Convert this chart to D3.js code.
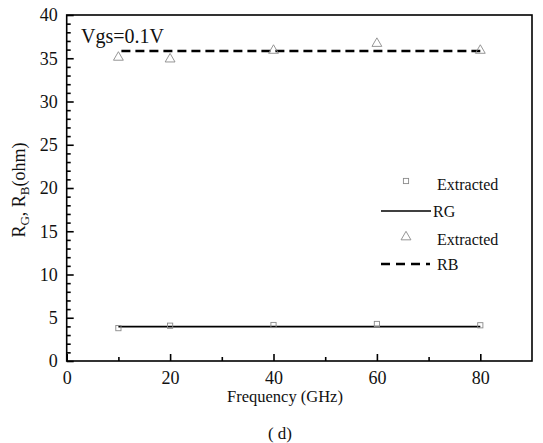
<!DOCTYPE html>
<html><head><meta charset="utf-8">
<script src="https://cdn.jsdelivr.net/npm/d3@7"></script>
<style>body{margin:0;background:#fff}svg text{font-family:"Liberation Serif","Times New Roman",serif;fill:#111}</style>
</head><body><svg id="c" width="543" height="443" font-family="Liberation Serif, serif"></svg>
<script>
const freqs = [10, 20, 40, 60, 80];
const rgExtracted = [3.8, 4.08, 4.16, 4.28, 4.13];
const rbExtracted = [35.1, 34.9, 35.9, 36.7, 35.9];
const rgFit = [[10, 3.97], [80, 3.97]];
const rbFit = [[10, 35.84], [80, 35.84]];
const xTicks = [0, 20, 40, 60, 80];
const yTicks = [0, 5, 10, 15, 20, 25, 30, 35, 40];

const svg = d3.select("#c");
const L = 66.7, R = 532, T = 15, B = 361;
const x = d3.scaleLinear().domain([0, 90]).range([L, R]);
const y = d3.scaleLinear().domain([0, 40]).range([B, T]);

svg.append("rect").attr("x", L).attr("y", T).attr("width", R - L).attr("height", B - T)
  .attr("fill", "none").attr("stroke", "#000").attr("stroke-width", 1.6);

const xa = svg.append("g").attr("transform", `translate(0,${B})`)
  .call(d3.axisBottom(x).tickValues(xTicks).tickSize(-7).tickPadding(10).tickFormat(d3.format("d")));
const xm = svg.append("g").attr("transform", `translate(0,${B})`)
  .call(d3.axisBottom(x).tickValues([10, 30, 50, 70]).tickSize(-4).tickFormat(""));
const ya = svg.append("g").attr("transform", `translate(${L},0)`)
  .call(d3.axisLeft(y).tickValues(yTicks).tickSize(-7).tickPadding(9));
const ym = svg.append("g").attr("transform", `translate(${L},0)`)
  .call(d3.axisLeft(y).tickValues(d3.range(0, 41).filter(v => v % 5 !== 0)).tickSize(-4).tickFormat(""));
[xa, xm, ya, ym].forEach(g => {
  g.attr("font-family", "Liberation Serif, serif").attr("font-size", 18);
  g.select(".domain").remove();
  g.selectAll("line").attr("stroke", "#000").attr("stroke-width", 1.6);
  g.selectAll("text").attr("fill", "#111");
});

const line = d3.line().x(d => x(d[0])).y(d => y(d[1]));
svg.append("path").datum(rgFit).attr("d", line).attr("stroke", "#000").attr("stroke-width", 1.6).attr("fill", "none");
svg.append("path").datum(rbFit).attr("d", line).attr("stroke", "#000").attr("stroke-width", 2.4)
  .attr("stroke-dasharray", "9,5").attr("stroke-dashoffset", -3).attr("fill", "none");

const gray = "#8a8a8a";
svg.selectAll(".sq").data(freqs).join("rect")
  .attr("x", d => x(d) - 2.6).attr("y", (d, i) => y(rgExtracted[i]) - 2.6)
  .attr("width", 5.2).attr("height", 5.2).attr("fill", "none").attr("stroke", gray).attr("stroke-width", 0.9);
const tri = d3.symbol().type(d3.symbolTriangle).size(42);
svg.selectAll(".tr").data(freqs).join("path")
  .attr("d", tri).attr("transform", (d, i) => `translate(${x(d)},${y(rbExtracted[i])})`)
  .attr("fill", "none").attr("stroke", gray).attr("stroke-width", 0.9);

const lg = svg.append("g").attr("font-size", 16);
lg.append("rect").attr("x", 403.4).attr("y", 178.4).attr("width", 5.2).attr("height", 5.2)
  .attr("fill", "none").attr("stroke", gray).attr("stroke-width", 0.9);
lg.append("text").attr("x", 437).attr("y", 190).text("Extracted");
lg.append("line").attr("x1", 381).attr("x2", 431).attr("y1", 211).attr("y2", 211).attr("stroke", "#000").attr("stroke-width", 1.6);
lg.append("text").attr("x", 433).attr("y", 217).text("RG");
lg.append("path").attr("d", tri).attr("transform", "translate(406,237)").attr("fill", "none").attr("stroke", gray).attr("stroke-width", 0.9);
lg.append("text").attr("x", 437).attr("y", 245).text("Extracted");
lg.append("line").attr("x1", 381).attr("x2", 430).attr("y1", 264).attr("y2", 264).attr("stroke", "#000").attr("stroke-width", 2.4)
  .attr("stroke-dasharray", "9,6");
lg.append("text").attr("x", 437).attr("y", 270).text("RB");

svg.append("text").attr("x", 81).attr("y", 43).attr("font-size", 20).text("Vgs=0.1V");

svg.append("text").attr("x", 285).attr("y", 402).attr("text-anchor", "middle").attr("font-size", 16.5)
  .text("Frequency (GHz)");
const yt = svg.append("text").attr("transform", "translate(25,190) rotate(-90)").attr("text-anchor", "middle").attr("font-size", 18);
yt.append("tspan").text("R");
yt.append("tspan").attr("font-size", 13).attr("dy", 4).text("G");
yt.append("tspan").attr("dy", -4).text(", R");
yt.append("tspan").attr("font-size", 13).attr("dy", 4).text("B");
yt.append("tspan").attr("dy", -4).text("(ohm)");

svg.append("text").attr("x", 280).attr("y", 439).attr("text-anchor", "middle").attr("font-size", 17).text("( d)");
</script></body></html>
